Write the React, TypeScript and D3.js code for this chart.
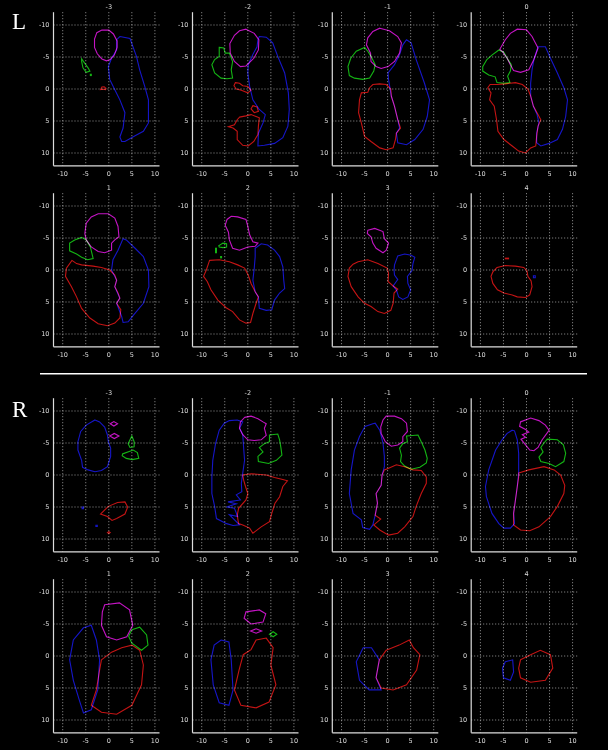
import * as d3 from 'd3'
import { useEffect } from 'react'

type Pt = [number, number]

// slice labels
const SLICES = [-3, -2, -1, 0, 1, 2, 3, 4]
const TICKS = [-10, -5, 0, 5, 10]

// ---------- L side contours (x, y in cm) ----------
const L_M3_MAG: Pt[] = [[-1.5,-9.2],[0,-9.2],[1,-8.6],[1.8,-7.5],[1.8,-6.5],[1.2,-5.3],[0.3,-4.6],[-0.5,-4.4],[-1.5,-4.7],[-2.5,-5.5],[-3.1,-6.5],[-3.1,-7.8],[-2.6,-8.8]]
const L_M3_BLUE: Pt[] = [[2.4,-8.2],[4.6,-7.9],[6,-5.1],[6.7,-3],[7.8,-0.4],[8.6,1.7],[8.6,5.3],[7.5,6.6],[5.7,7.3],[3.5,8.2],[2.8,8.2],[2.4,7.5],[3.1,6.1],[3.5,3.7],[2.4,1.7],[1.3,0.1],[0.2,-1.5],[-0.1,-3.5],[0.6,-4.8],[1.7,-6.1],[1.7,-7.7]]
const L_M3_GREEN: Pt[] = [[-5.9,-4.7],[-5.2,-4],[-4.5,-3.3],[-4.1,-2.8],[-4.9,-2.6],[-5.6,-3.3],[-5.9,-4.3]]
const L_M3_GREEN2: Pt[] = [[-4,-2.3],[-3.8,-2.3],[-3.8,-2.1],[-4,-2.1]]
const L_M3_RED: Pt[] = [[-1.8,0.1],[-1.5,-0.3],[-1,-0.35],[-0.6,-0.1],[-0.7,0.1],[-1.2,0.05]]

const L_M2_MAG: Pt[] = [[-0.4,-9.35],[1.4,-8.7],[2.4,-7.7],[2.3,-6.1],[1.3,-4.8],[-0.4,-3.6],[-1.6,-3.5],[-2.9,-4.3],[-3.8,-5.6],[-3.9,-7.1],[-2.9,-8.4],[-1.8,-9.1]]
const L_M2_GREEN: Pt[] = [[-6.2,-6.5],[-5.2,-6.4],[-4.9,-5.6],[-4,-5.6],[-3.3,-4.3],[-3.6,-3],[-3.3,-1.7],[-4.5,-1.6],[-5.8,-1.7],[-7.2,-2.5],[-7.8,-3.8],[-7.2,-4.6],[-6.2,-5.1]]
const L_M2_RED1: Pt[] = [[-2.7,-1],[-1.8,-0.9],[-1.1,-0.5],[0,-0.4],[0.7,0.2],[0,0.6],[-1.4,0.2],[-2.5,0],[-3,-0.5]]
const L_M2_RED2: Pt[] = [[1.1,2.6],[2,2.8],[2.3,3.5],[1.4,3.7],[0.7,3.1]]
const L_M2_RED3: Pt[] = [[-1.8,4.4],[-0.4,4.2],[0.7,4],[1.8,4.3],[2.5,4.5],[2.3,5.8],[2.2,7.1],[1.3,8.2],[0.1,8.9],[-1.1,8.8],[-2.3,7.9],[-2.3,6.6],[-3.2,6.1],[-4.2,5.9],[-2.9,5.6],[-2.3,4.8]]
const L_M2_BLUE: Pt[] = [[2.5,-8.2],[4,-8.1],[5.4,-7.2],[6.5,-5.1],[8,-2.5],[8.8,0.6],[9,3.2],[8.7,5.8],[7.6,7.6],[5.8,8.5],[3.6,8.8],[2.2,8.9],[2.3,6.9],[3.3,5.3],[3.8,4],[2.5,3.2],[1.1,1.7],[0.4,-0.4],[0,-2.5],[0.1,-3.8],[1.1,-5.4],[2,-6.6],[2.2,-7.7]]

const L_M1_MAG: Pt[] = [[-1.7,-9.5],[0.4,-9.1],[2.2,-8.2],[3,-7.2],[2.6,-5.6],[1.5,-4.3],[0.1,-3.5],[-1.4,-3.2],[-2.5,-3.5],[-3.6,-4.3],[-3.7,-5.6],[-4.6,-6.9],[-4.3,-8],[-3.2,-9]]
const L_M1_GREEN: Pt[] = [[-5,-6.5],[-4.3,-5.9],[-3.6,-5.1],[-2.7,-3.8],[-3,-2.8],[-3.9,-1.7],[-5.4,-1.5],[-7.2,-1.7],[-8.3,-2.1],[-8.6,-3.5],[-8,-4.8],[-6.8,-5.9]]
const L_M1_RED: Pt[] = [[-3.2,-0.7],[-1.7,-0.8],[-0.3,-0.7],[0.7,0],[0.8,1.1],[1.5,2.7],[2.2,4.8],[2.8,6.1],[1.9,6.9],[1.7,7.9],[1.2,9.2],[-0.3,9.5],[-1.7,9.2],[-3.6,8.2],[-5,7.4],[-5.7,5.3],[-6.3,3.7],[-6.1,1.7],[-5.7,0.6],[-4.3,0.5],[-3.9,-0.2]]
const L_M1_BLUE: Pt[] = [[4.1,-7.7],[5.1,-7.2],[6.2,-4.6],[8,-0.9],[9.1,1.7],[8.6,4.3],[7.7,6.3],[5.9,7.9],[4.1,8.7],[2.2,8.4],[1.9,6.9],[2.6,6.1],[2.2,4.8],[1.5,2.7],[0.8,1.1],[0.2,-1.5],[0.1,-2.5],[1.5,-3.8],[2.6,-5.4],[3.3,-6.9]]

const L_0_MAG: Pt[] = [[-2,-9.35],[0,-9.25],[1.2,-8.2],[2.5,-6.4],[1.6,-4.6],[0.5,-3],[-1.3,-2.6],[-2.8,-2.9],[-3.5,-3.8],[-4.2,-4.8],[-5.3,-5.9],[-5.8,-6.2],[-4.6,-7.7],[-3.5,-8.7]]
const L_0_GREEN: Pt[] = [[-6,-6.1],[-4.9,-5.7],[-4.2,-4.8],[-3.3,-3.8],[-3.5,-2.8],[-4.1,-2],[-3.6,-1],[-4.9,-0.9],[-6.4,-1],[-6.8,-1.9],[-8.2,-2.2],[-9.5,-2.8],[-9.5,-3.5],[-8.6,-4.6],[-7.5,-5.3]]
const L_0_RED: Pt[] = [[-7.9,-0.7],[-6.4,-0.7],[-4.6,-0.8],[-2.4,-1],[-0.9,-0.7],[0.3,0],[0.9,1.1],[1.5,2.7],[2.5,4],[3.1,4.8],[2.5,5.8],[2.2,7.4],[2,8.9],[0.9,9.2],[-0.2,10],[-1.7,9.7],[-3.1,8.9],[-4.9,7.9],[-6.2,6.6],[-6.5,4.8],[-7,2.7],[-8,1.7],[-7.7,0.6],[-8.4,-0.2]]
const L_0_BLUE: Pt[] = [[2.5,-6.6],[4.1,-6.6],[5.2,-4.8],[6.7,-2.5],[8.1,-0.2],[8.9,1.7],[8.5,4.3],[7.8,6.3],[6.7,7.9],[4.9,8.5],[3.1,8.9],[2.2,8.4],[2.2,6.9],[2.7,5.3],[2.3,4],[1.5,2.7],[0.9,1.1],[0.9,-0.9],[1.2,-3],[1.6,-4.6],[2.2,-5.9]]

const L_1_MAG: Pt[] = [[-2.3,-8.8],[-0.1,-8.8],[1.3,-8.1],[2,-6.8],[2.2,-5.2],[1.3,-4.7],[0.6,-4.2],[0.6,-3.1],[-0.9,-2.7],[-2.3,-2.9],[-3.8,-3.6],[-4.9,-4.7],[-5.2,-5.7],[-4.9,-7.3],[-3.8,-8.3]]
const L_1_GREEN: Pt[] = [[-5.9,-5.1],[-4.9,-4.7],[-4,-3.6],[-3.4,-1.8],[-4.6,-1.6],[-5.9,-2],[-7,-2.5],[-8.5,-3],[-8.5,-4.2],[-7.4,-4.7]]
const L_1_RED: Pt[] = [[-8,-1.5],[-7,-1],[-5.9,-0.8],[-3.4,-0.6],[-1.6,-0.4],[0.2,0],[1.3,0.8],[1.7,1.6],[1.3,2.6],[2,3.6],[2.4,4.4],[1.7,5.2],[2.6,6.2],[2.4,7.5],[1.3,8.3],[-0.3,8.7],[-2.3,8.4],[-4.1,7.5],[-5.9,6],[-7,4.2],[-8.1,2.6],[-9.4,1],[-9.2,-0.3]]
const L_1_BLUE: Pt[] = [[3.1,-4.9],[3.8,-4.7],[5.7,-3.4],[7.5,-2.1],[8.6,0],[8.7,2.6],[7.5,5.2],[5.4,7],[4.2,8.1],[3.1,8.2],[2.8,7.3],[1.7,5.2],[2.4,4.4],[1.3,2.6],[1.7,1.6],[0.6,0],[0.9,-1.6],[2,-3.1]]

const L_2_MAG: Pt[] = [[-3.6,-8.4],[-2.2,-8.3],[-0.4,-7.9],[0,-6.8],[0.4,-5.5],[1.1,-4.4],[2.2,-4.2],[1.6,-3.7],[0,-3.6],[-1.8,-3.1],[-3.3,-3.4],[-4,-4.7],[-4.2,-5.9],[-4.9,-7],[-4.5,-7.9]]
const L_2_GREEN: Pt[] = [[-6.3,-3.8],[-5.4,-4.2],[-4.6,-4.1],[-4.6,-3.6],[-5.4,-3.5],[-6.2,-3.6]]
const L_2_GREEN2: Pt[] = [[-7,-3.4],[-6.8,-3.4],[-6.8,-2.7],[-7,-2.7]]
const L_2_GREEN3: Pt[] = [[-5.9,-2.1],[-5.7,-2.1],[-5.7,-1.9],[-5.9,-1.9]]
const L_2_RED: Pt[] = [[-8.3,-1.5],[-6.2,-1.6],[-4,-1.3],[-2.2,-0.8],[-0.7,-0.3],[0.1,0.8],[0.7,2.1],[1.6,3.4],[2.3,4.2],[1.8,5.2],[1.1,6.8],[0.6,8.2],[-0.4,8.3],[-1.8,7.8],[-3.3,6.5],[-4.7,5.9],[-6.5,4.7],[-8,3.1],[-8.8,1.8],[-9.6,1],[-9,0]]
const L_2_BLUE: Pt[] = [[1.6,-3.4],[2.9,-4.1],[4.3,-3.9],[5.8,-3.1],[6.9,-2.1],[7.6,-0.5],[7.8,1.6],[8,2.9],[6.9,3.6],[5.8,4.7],[5.2,6.2],[4,6.3],[2.5,6],[2.3,4.2],[1.6,3.4],[1.1,1.6],[1.4,-0.3],[1.6,-2.1]]

const L_3_MAG: Pt[] = [[-4.3,-6.2],[-2.8,-6.5],[-1,-6],[-0.7,-4.9],[0.2,-4.2],[-0.3,-3.1],[-1,-2.7],[-2.5,-3.4],[-3.2,-4.2],[-3.6,-5.2],[-4.4,-5.7]]
const L_3_RED: Pt[] = [[-6.4,-1.3],[-4.3,-1.6],[-2.1,-1],[-0.1,-0.3],[0.2,0.5],[0.1,1.8],[1.2,2.5],[2.2,3],[1.4,3.6],[1.2,5.2],[0.7,6.3],[-0.7,6.8],[-2.1,6.5],[-3.6,5.7],[-5,5.2],[-6.4,4.2],[-7.9,2.6],[-8.6,1],[-8.3,-0.3],[-7.5,-0.9]]
const L_3_BLUE: Pt[] = [[1.5,-0.8],[2.2,-2.2],[3.7,-2.5],[5.1,-2.3],[5.9,-2],[5.5,-1],[5.3,0.1],[4.3,1],[4.4,2.1],[5,3.1],[4.4,4.2],[3.3,4.6],[2.4,4.2],[1.9,3.1],[1.2,2.5],[2.2,1.5],[1.5,0.8],[1.4,0]]

const L_4_RED: Pt[] = [[-6.4,-0.4],[-4.6,-0.7],[-2.4,-0.6],[-0.6,-0.4],[0.1,0.1],[0.3,1],[1,1.7],[1.2,2.6],[0.7,3.9],[-0.2,4.3],[-2,4.2],[-3.1,3.9],[-4.9,3.6],[-6.3,3.1],[-7.3,2.1],[-7.7,1],[-7.3,0.3]]
const L_4_RED2: Pt[] = [[-4.6,-1.85],[-3.9,-1.85],[-3.9,-1.75],[-4.6,-1.75]]
const L_4_BLUE: Pt[] = [[1.5,0.9],[1.9,0.9],[1.9,1.2],[1.5,1.2]]

// ---------- R side contours ----------
const R_M3_BLUE: Pt[] = [[-3,-8.6],[-2,-8.3],[-0.9,-7.5],[-0.3,-6.25],[-0.1,-5.2],[0.4,-4.2],[0.4,-2.9],[-0.3,-1.3],[-1.6,-0.7],[-3,-0.5],[-4.5,-0.8],[-5.7,-1.2],[-5.9,-2.3],[-6.7,-3.9],[-6.7,-5.2],[-6.1,-6.8],[-4.9,-7.8]]
const R_M3_BLUE2: Pt[] = [[-5.8,5],[-5.5,5],[-5.5,5.25],[-5.8,5.25]]
const R_M3_BLUE3: Pt[] = [[-2.8,7.85],[-2.5,7.85],[-2.5,8.05],[-2.8,8.05]]
const R_M3_MAG1: Pt[] = [[0.3,-8],[1.1,-8.35],[1.9,-8],[1.1,-7.65]]
const R_M3_MAG2: Pt[] = [[0.2,-6.1],[1.2,-6.5],[2.2,-6.1],[1.2,-5.7]]
const R_M3_GREEN1: Pt[] = [[5,-6.1],[5.5,-5.2],[5.5,-4.4],[4.6,-4.3],[4.2,-4.9]]
const R_M3_GREEN2: Pt[] = [[3,-3.3],[5.3,-3.9],[6.2,-3.5],[6.5,-2.6],[5.1,-2.4],[3.8,-2.6],[2.9,-3]]
const R_M3_RED: Pt[] = [[-1.8,6.1],[-0.1,4.9],[1.9,4.3],[3.5,4.2],[4.1,5],[3.5,6.1],[1.7,6.8],[0.7,7.1],[-0.3,6.5]]
const R_M3_RED2: Pt[] = [[-0.3,9],[0,8.85],[0.3,9],[0,9.15]]

const R_M2_MAG: Pt[] = [[-0.7,-9],[0.7,-9.2],[2.2,-8.8],[3.3,-8.3],[4,-8],[3.6,-7.3],[4,-6.2],[2.9,-5.5],[1.4,-5.4],[0,-5.5],[-1.1,-6.3],[-1.8,-7.3],[-1.6,-8.3]]
const R_M2_GREEN: Pt[] = [[4.7,-6.25],[6.5,-6.4],[6.9,-5.5],[7.2,-4.2],[7.4,-3.1],[6.2,-2.3],[4.5,-1.8],[2.3,-2.1],[2.2,-2.9],[3.3,-3.6],[2.5,-4.3],[3.6,-4.9],[4.7,-5.2]]
const R_M2_BLUE: Pt[] = [[-4,-8.5],[-2.3,-8.6],[-1.1,-8.3],[-1.8,-7.3],[-1.1,-6.3],[-0.9,-4.2],[-0.7,-2.3],[-1.1,-0.3],[-1.4,1.3],[-1.3,2.6],[-2.5,3.1],[-1.6,3.9],[-4.3,4.2],[-2.5,4.5],[-4.6,5],[-2.9,5.2],[-2.2,6.5],[-4,6.2],[-1.8,7.8],[-3.2,7.9],[-4.6,7.6],[-6.8,6.8],[-7.2,4.9],[-7.8,2.9],[-7.8,0.3],[-7.6,-2.3],[-7,-4.9],[-6.2,-7],[-5.1,-8.1]]
const R_M2_RED: Pt[] = [[-1.1,0],[0.7,-0.2],[4,0],[5.8,0.4],[7.6,0.7],[8.6,0.9],[7.6,1.8],[6.9,3.4],[5.9,4.4],[5.2,6],[4.7,7.3],[2.9,8.1],[1.1,9.1],[0.4,8.3],[-1.1,7.8],[-2,7.6],[-2.3,6.3],[-2,5.2],[-0.4,3.9],[0,2.9],[-0.5,1.8],[-0.9,0.8]]

const R_M1_MAG: Pt[] = [[-0.3,-9.2],[1.5,-9.2],[3,-8.8],[4.1,-8.1],[4.3,-6.8],[3.3,-6],[3.3,-5.2],[2.2,-4.7],[0.8,-4.5],[-0.5,-5.2],[-1.4,-6.5],[-1.5,-7.5],[-1,-8.6]]
const R_M1_GREEN: Pt[] = [[4.1,-6.1],[6.6,-6.25],[7.3,-5.2],[8.1,-3.9],[8.6,-2.6],[8.4,-1.9],[7,-1.2],[5.1,-0.9],[3.7,-1.4],[2.8,-2.1],[3,-3.1],[2.6,-4.2],[3.3,-4.9],[4.3,-5.2]]
const R_M1_RED: Pt[] = [[0.1,-1],[1.9,-1.6],[3.7,-1.3],[5.5,-0.8],[7.3,-0.7],[8.4,0.3],[8.4,1.3],[7.3,2.9],[6.2,4.9],[5.5,6.5],[3.7,8.1],[2.2,9.1],[0.2,9.4],[-1.7,8.6],[-3,7.8],[-1.5,6.9],[-2.7,6.3],[-2.2,4.4],[-2.5,2.9],[-1.4,1.6],[-1.2,0],[-0.7,-0.8]]
const R_M1_BLUE: Pt[] = [[-3.2,-8],[-2.7,-8.1],[-1.7,-7],[-1,-5],[-0.7,-2.9],[-0.7,-1.3],[-1.2,0],[-1.4,1.6],[-2.5,2.9],[-2.2,4.4],[-2.7,6.3],[-3.2,7.8],[-3.9,8.5],[-5.4,8.2],[-5.7,7],[-7.5,6],[-8.3,2.9],[-7.9,-0.8],[-7.2,-3.9],[-6.1,-6],[-4.9,-7.6]]

const R_0_MAG: Pt[] = [[-1.3,-8.3],[0.9,-8.9],[2.7,-8.5],[4.1,-7.8],[4.9,-7],[4.1,-6.2],[3.4,-5.5],[2.5,-4.3],[1.6,-3.8],[0.7,-3.9],[-0.2,-4.7],[-1.2,-5.6],[-0.2,-5.9],[-0.9,-6.3],[0.5,-6.7],[-0.2,-7.1],[-1.5,-7.6]]
const R_0_GREEN: Pt[] = [[4.5,-5.6],[6.7,-5.5],[8,-4.7],[8.5,-3.4],[8.1,-2.1],[6.3,-1.3],[4.9,-1.8],[3.1,-2.1],[2.7,-2.8],[3.6,-3.6],[3.1,-4.3],[3.8,-5]]
const R_0_RED: Pt[] = [[-1.7,-0.3],[0.5,-0.8],[3.8,-1.3],[6,-0.8],[7.4,0],[8.3,1.6],[8.1,2.9],[6.7,4.9],[5.2,6.5],[2.7,8.1],[0.7,8.7],[-1.3,8.6],[-2.8,7.8],[-2.8,6],[-2.4,3.9],[-2,1.8],[-1.7,0.3]]
const R_0_BLUE: Pt[] = [[-3.1,-7],[-2.6,-6.9],[-2,-5.5],[-1.7,-3.4],[-1.7,-0.3],[-2,1.8],[-2.4,3.9],[-2.8,6],[-2.6,7.6],[-3.5,8.3],[-4.9,8.3],[-6,7.6],[-7.5,6],[-8.7,3.4],[-8.9,1.8],[-8.2,-0.8],[-6.7,-3.9],[-5.3,-5.5],[-4.2,-6.5]]

const R_1_MAG: Pt[] = [[-0.9,-8],[2.3,-8.3],[4.5,-7.2],[5.2,-4.8],[3.9,-3],[1.7,-2.5],[-0.5,-3],[-1.6,-4.8],[-1.4,-6.9]]
const R_1_GREEN: Pt[] = [[5,-4.1],[6.7,-4.5],[8.2,-3.3],[8.5,-1.7],[7.1,-0.9],[5,-2],[4.3,-3.1]]
const R_1_BLUE: Pt[] = [[-5.5,-4.4],[-3.8,-4.8],[-2.7,-2.5],[-2,0.6],[-2.4,5.3],[-3.8,8.4],[-5.5,8.9],[-6.4,6.9],[-7.7,3.8],[-8.5,0.6],[-7.7,-2.5]]
const R_1_RED: Pt[] = [[-1.6,0.6],[0.6,-0.6],[2.8,-1.3],[5,-1.7],[6.7,-0.9],[7.5,1.4],[7.1,4.5],[5,7.7],[1.7,9.1],[-1.6,8.8],[-3.8,7.7],[-2.7,5.3],[-2,2.2]]

const R_2_MAG: Pt[] = [[-0.4,-6.9],[2.5,-7.2],[3.9,-6.6],[3.3,-5.3],[0.7,-5],[-0.8,-5.9]]
const R_2_MAG2: Pt[] = [[0.6,-3.9],[1.8,-4.25],[3,-3.9],[1.8,-3.55]]
const R_2_GREEN: Pt[] = [[4.7,-3.4],[5.5,-3.8],[6.3,-3.4],[5.5,-3]]
const R_2_BLUE: Pt[] = [[-5.8,-2.5],[-4.1,-2.2],[-3.6,0.6],[-3.2,5.3],[-4.1,7.7],[-6.2,7.3],[-7.5,4.5],[-8,0.6],[-7.3,-1.7]]
const R_2_RED: Pt[] = [[1.8,-2.5],[4,-2.8],[5.5,-1.3],[5,1.4],[6.1,4.5],[4.6,7.2],[1.8,8.1],[-1.5,7.7],[-2.9,5.3],[-1.9,2.2],[-1,-0.2],[0.7,-1]]

const R_3_BLUE: Pt[] = [[-5.3,-1.3],[-3.5,-1.3],[-1.8,0.6],[-2.5,3.4],[-1.4,5.3],[-4,5.3],[-6.1,3.8],[-6.8,0.9]]
const R_3_RED: Pt[] = [[-0.3,-0.9],[2.5,-1.7],[4.7,-2.5],[5.6,-1.3],[7,-0.2],[6.3,2.2],[4.1,4.5],[1.2,5.3],[-1.4,5],[-2.5,3.4],[-1.8,0.6]]

const R_4_BLUE: Pt[] = [[-4.6,0.9],[-3,0.6],[-2.8,2.5],[-3.5,3.8],[-5,3.4],[-5.2,1.9]]
const R_4_RED: Pt[] = [[-1.3,0.6],[0.9,-0.2],[3,-0.9],[5.2,-0.2],[5.7,1.9],[4.1,3.8],[0.9,4.1],[-1.3,3.4],[-1.7,1.9]]

type Contour = { s: string; pts: Pt[] }

const L_PANELS: Contour[][] = [
  [{ s: 'mag', pts: L_M3_MAG }, { s: 'blue', pts: L_M3_BLUE }, { s: 'green', pts: L_M3_GREEN }, { s: 'green', pts: L_M3_GREEN2 }, { s: 'red', pts: L_M3_RED }],
  [{ s: 'mag', pts: L_M2_MAG }, { s: 'green', pts: L_M2_GREEN }, { s: 'red', pts: L_M2_RED1 }, { s: 'red', pts: L_M2_RED2 }, { s: 'red', pts: L_M2_RED3 }, { s: 'blue', pts: L_M2_BLUE }],
  [{ s: 'mag', pts: L_M1_MAG }, { s: 'green', pts: L_M1_GREEN }, { s: 'red', pts: L_M1_RED }, { s: 'blue', pts: L_M1_BLUE }],
  [{ s: 'mag', pts: L_0_MAG }, { s: 'green', pts: L_0_GREEN }, { s: 'red', pts: L_0_RED }, { s: 'blue', pts: L_0_BLUE }],
  [{ s: 'mag', pts: L_1_MAG }, { s: 'green', pts: L_1_GREEN }, { s: 'red', pts: L_1_RED }, { s: 'blue', pts: L_1_BLUE }],
  [{ s: 'mag', pts: L_2_MAG }, { s: 'green', pts: L_2_GREEN }, { s: 'green', pts: L_2_GREEN2 }, { s: 'green', pts: L_2_GREEN3 }, { s: 'red', pts: L_2_RED }, { s: 'blue', pts: L_2_BLUE }],
  [{ s: 'mag', pts: L_3_MAG }, { s: 'red', pts: L_3_RED }, { s: 'blue', pts: L_3_BLUE }],
  [{ s: 'red', pts: L_4_RED }, { s: 'red', pts: L_4_RED2 }, { s: 'blue', pts: L_4_BLUE }],
]

const R_PANELS: Contour[][] = [
  [{ s: 'blue', pts: R_M3_BLUE }, { s: 'blue', pts: R_M3_BLUE2 }, { s: 'blue', pts: R_M3_BLUE3 }, { s: 'mag', pts: R_M3_MAG1 }, { s: 'mag', pts: R_M3_MAG2 }, { s: 'green', pts: R_M3_GREEN1 }, { s: 'green', pts: R_M3_GREEN2 }, { s: 'red', pts: R_M3_RED }, { s: 'red', pts: R_M3_RED2 }],
  [{ s: 'mag', pts: R_M2_MAG }, { s: 'green', pts: R_M2_GREEN }, { s: 'blue', pts: R_M2_BLUE }, { s: 'red', pts: R_M2_RED }],
  [{ s: 'mag', pts: R_M1_MAG }, { s: 'green', pts: R_M1_GREEN }, { s: 'red', pts: R_M1_RED }, { s: 'blue', pts: R_M1_BLUE }],
  [{ s: 'mag', pts: R_0_MAG }, { s: 'green', pts: R_0_GREEN }, { s: 'red', pts: R_0_RED }, { s: 'blue', pts: R_0_BLUE }],
  [{ s: 'mag', pts: R_1_MAG }, { s: 'green', pts: R_1_GREEN }, { s: 'blue', pts: R_1_BLUE }, { s: 'red', pts: R_1_RED }],
  [{ s: 'mag', pts: R_2_MAG }, { s: 'mag', pts: R_2_MAG2 }, { s: 'green', pts: R_2_GREEN }, { s: 'blue', pts: R_2_BLUE }, { s: 'red', pts: R_2_RED }],
  [{ s: 'blue', pts: R_3_BLUE }, { s: 'red', pts: R_3_RED }],
  [{ s: 'blue', pts: R_4_BLUE }, { s: 'red', pts: R_4_RED }],
]

const COLORS: Record<string, string> = {
  mag: '#c414c4',
  blue: '#1616c8',
  green: '#14b414',
  red: '#c41414',
}

// layout
const COL_X = [53.5, 192.5, 332.3, 471.2]
const ROW_TOP = [12.2, 193.2, 398.2, 579.2]
const W = 106
const H = 153.6

const x = d3.scaleLinear().domain([-12, 11]).range([0, W])
const y = d3.scaleLinear().domain([-12, 12]).range([0, H])

const line = d3.line<Pt>()
  .x(d => x(d[0]))
  .y(d => y(d[1]))
  .curve(d3.curveLinearClosed)

const Panel = ({ left, top, slice, contours }: { left: number; top: number; slice: number; contours: Contour[] }) => (
  <g transform={`translate(${left},${top})`}>
    {/* grid */}
    {TICKS.map(t => (
      <line key={'v' + t} x1={x(t)} x2={x(t)} y1={0} y2={H} stroke="#bbb" strokeWidth={0.8} strokeDasharray="1,2" />
    ))}
    {TICKS.map(t => (
      <line key={'h' + t} x1={0} x2={W} y1={y(t)} y2={y(t)} stroke="#bbb" strokeWidth={0.8} strokeDasharray="1,2" />
    ))}
    {/* axes */}
    <line x1={0} x2={0} y1={0} y2={H} stroke="#ddd" strokeWidth={1.2} />
    <line x1={0} x2={W} y1={H} y2={H} stroke="#ddd" strokeWidth={1.2} />
    {TICKS.map(t => (
      <text key={'yl' + t} x={-4} y={y(t)} dy="0.35em" textAnchor="end" fontSize={6.5} fill="#ddd" fontFamily="DejaVu Sans">{t}</text>
    ))}
    {TICKS.map(t => (
      <text key={'xl' + t} x={x(t)} y={H + 10} textAnchor="middle" fontSize={6.5} fill="#ddd" fontFamily="DejaVu Sans">{t}</text>
    ))}
    <text x={x(0)} y={-3} textAnchor="middle" fontSize={6.5} fill="#ddd" fontFamily="DejaVu Sans">{slice}</text>
    {/* contours */}
    {contours.map((c, i) => (
      <path key={i} d={line(c.pts) || ''} fill="none" stroke={COLORS[c.s]} strokeWidth={1.1}
        style={{ mixBlendMode: 'screen' }} />
    ))}
  </g>
)

export default function App() {
  useEffect(() => {
    document.body.style.margin = '0'
    document.body.style.background = '#000'
  }, [])

  return (
    <svg width={608} height={750} style={{ display: 'block', background: '#000' }}>
      <rect width={608} height={750} fill="#000" />
      <text x={12} y={29} fontSize={23} fill="#fff" fontFamily="Liberation Serif">L</text>
      <text x={12} y={417} fontSize={23} fill="#fff" fontFamily="Liberation Serif">R</text>
      <line x1={40} x2={587} y1={373.7} y2={373.7} stroke="#fff" strokeWidth={1.5} />
      {L_PANELS.map((cs, i) => (
        <Panel key={'L' + i} left={COL_X[i % 4]} top={ROW_TOP[Math.floor(i / 4)]} slice={SLICES[i]} contours={cs} />
      ))}
      {R_PANELS.map((cs, i) => (
        <Panel key={'R' + i} left={COL_X[i % 4]} top={ROW_TOP[2 + Math.floor(i / 4)]} slice={SLICES[i]} contours={cs} />
      ))}
    </svg>
  )
}
